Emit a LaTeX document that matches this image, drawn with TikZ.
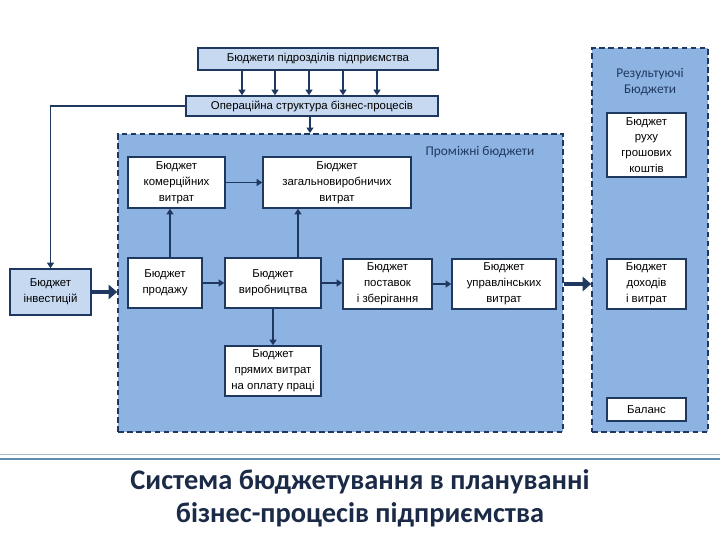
\documentclass[tikz,border=0pt]{standalone}
\usepackage{fontspec}
\setmainfont{Liberation Sans}
\newfontfamily\titlefont{Carlito}
\usepackage{tikz}
\usetikzlibrary{arrows.meta, positioning, calc}
\definecolor{navy}{RGB}{31,56,96}
\definecolor{regionblue}{RGB}{141,179,226}
\definecolor{paleblue}{RGB}{198,217,241}
\definecolor{titlenavy}{RGB}{27,42,71}
\definecolor{rulelight}{RGB}{166,189,208}
\definecolor{rulesteel}{RGB}{95,139,170}
\tikzset{
  block/.style={rectangle, draw=navy, fill=white, line width=1.1pt,
    align=center, inner sep=1pt, font=\fontsize{8.1}{11.3}\selectfont},
  topblock/.style={block, fill=paleblue},
  region/.style={rectangle, draw=navy, fill=regionblue, line width=1.2pt,
    dash pattern=on 4pt off 2.5pt},
  regionlabel/.style={font=\titlefont\fontsize{9.5}{11}\selectfont, text=navy, align=center},
  arrow/.style={-{Triangle[width=5pt,length=4pt]}, line width=1.1pt, color=navy},
  bigarrow/.style={-{Triangle[width=10pt,length=6pt]}, line width=3pt, color=navy}
}
\begin{document}
\begin{tikzpicture}
  \useasboundingbox (0,0) rectangle (18,13.5);

  % Dashed regions
  \node[region, minimum width=11.125cm, minimum height=7.45cm] (mid) at (8.5125,6.425) {};
  \node[region, minimum width=2.9cm, minimum height=9.6cm] (res) at (16.25,7.5) {};
  \node[regionlabel] (midlabel) at (12.0,9.7) {Проміжні бюджети};
  \node[regionlabel] (reslabel) at (16.25,11.45) {Результуючі\\Бюджети};

  % Top blocks
  \node[topblock, minimum width=6.0cm, minimum height=0.55cm] (top) at (7.95,12.025) {Бюджети підрозділів підприємства};
  \node[topblock, minimum width=6.3cm, minimum height=0.5cm] (ops) at (7.8,10.85) {Операційна структура бізнес-процесів};
  \node[topblock, minimum width=2.025cm, minimum height=1.15cm] (inv) at (1.2625,6.2) {Бюджет\\інвестицій};

  % Intermediate budgets
  \node[block, minimum width=2.425cm, minimum height=1.275cm] (kom) at (4.4125,8.9375) {Бюджет\\комерційних\\витрат};
  \node[block, minimum width=3.7cm, minimum height=1.275cm] (zag) at (8.425,8.9375) {Бюджет\\загальновиробничих\\витрат};
  \node[block, minimum width=1.85cm, minimum height=1.25cm] (prod) at (4.125,6.425) {Бюджет\\продажу};
  \node[block, minimum width=2.4cm, minimum height=1.25cm] (vyr) at (6.825,6.425) {Бюджет\\виробництва};
  \node[block, minimum width=2.225cm, minimum height=1.25cm] (post) at (9.6875,6.4) {Бюджет\\поставок\\і зберігання};
  \node[block, minimum width=2.6cm, minimum height=1.25cm] (upr) at (12.6,6.4) {Бюджет\\управлінських\\витрат};
  \node[block, minimum width=2.4cm, minimum height=1.25cm] (pryam) at (6.825,4.225) {Бюджет\\прямих витрат\\на оплату праці};

  % Resulting budgets
  \node[block, minimum width=1.975cm, minimum height=1.6cm] (rukh) at (16.1625,9.875) {Бюджет\\руху\\грошових\\коштів};
  \node[block, minimum width=1.975cm, minimum height=1.25cm] (dohod) at (16.1625,6.4) {Бюджет\\доходів\\і витрат};
  \node[block, minimum width=1.975cm, minimum height=0.575cm] (bal) at (16.1625,3.2625) {Баланс};

  % Connectors
  \foreach \x in {6.05,6.875,7.725,8.575,9.425}
    \draw[arrow] (top.south -| \x,0) -- (ops.north -| \x,0);
  \draw[arrow] (ops.west) -| (inv.north);
  \draw[arrow] (ops.south -| 7.75,0) -- (mid.north -| 7.75,0);
  \draw[bigarrow] (inv.east) -- (inv.east -| mid.west);
  \draw[bigarrow] (mid.east |- dohod.west) -- (dohod.west -| res.west);
  \draw[arrow] (kom.east) -- (kom.east -| zag.west);
  \draw[arrow] (prod.north -| 4.25,0) -- (kom.south -| 4.25,0);
  \draw[arrow] (vyr.north -| 7.45,0) -- (zag.south -| 7.45,0);
  \draw[arrow] (prod.east) -- (vyr.west);
  \draw[arrow] (vyr.east) -- (vyr.east -| post.west);
  \draw[arrow] (post.east) -- (upr.west);
  \draw[arrow] (vyr.south) -- (pryam.north);

  % Title
  \draw[rulelight, line width=0.8pt] (0,2.14) -- (18,2.14);
  \draw[rulesteel, line width=1.8pt] (0,2.02) -- (18,2.02);
  \node[font=\titlefont\bfseries\fontsize{20.2}{23.5}\selectfont, text=titlenavy, align=center] (title) at (9,1.05) {Система бюджетування в плануванні\\бізнес-процесів підприємства};
\end{tikzpicture}
\end{document}
